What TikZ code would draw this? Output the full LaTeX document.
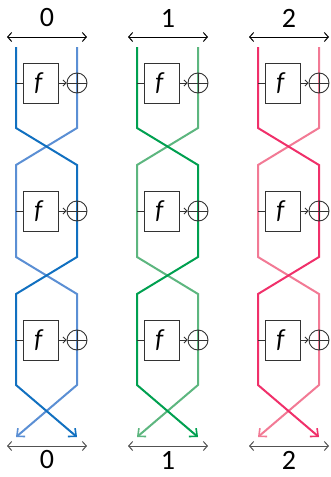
\documentclass[tikz,border=0pt]{standalone}
\usepackage{fontspec}
\setmainfont{Carlito}
\usetikzlibrary{arrows.meta}
\definecolor{bD}{HTML}{1170C0}
\definecolor{bL}{HTML}{5B8FD4}
\definecolor{gD}{HTML}{00A050}
\definecolor{gL}{HTML}{5DB67F}
\definecolor{pD}{HTML}{F0306A}
\definecolor{pL}{HTML}{F27A95}
\definecolor{ink}{HTML}{333333}
\tikzset{
  wire/.style={line width=2pt, line join=miter},
  endtip/.style={-{Straight Barb[length=6pt,width=11pt,line width=1.6pt]}},
  fbox/.style={draw=ink, line width=0.9pt, minimum width=35pt, minimum height=40pt, inner sep=0pt, font=\fontsize{26}{26}\selectfont\itshape, fill=white},
  xorc/.style={draw=ink, line width=0.9pt, circle, minimum size=20pt, inner sep=0pt},
  feed/.style={draw=ink, line width=0.9pt},
  fedarr/.style={draw=ink, line width=0.9pt, -{Straight Barb[length=3pt,width=6pt,line width=0.9pt]}},
  span/.style={line width=1pt, {Straight Barb[length=4pt,width=9pt,line width=1pt]}-{Straight Barb[length=4pt,width=9pt,line width=1pt]}},
  lab/.style={font=\fontsize{28}{28}\selectfont, inner sep=0pt},
}
\begin{document}
\begin{tikzpicture}[x=1pt,y=-1pt]
\useasboundingbox (0,0) rectangle (331,477);
\foreach \c/\dk/\lt in {0/bD/bL,1/gD/gL,2/pD/pL}{
  \begin{scope}[xshift=121*\c pt]
    \coordinate (L0) at (16,47);  \coordinate (R0) at (77,47);
    \coordinate (L1) at (16,128); \coordinate (R1) at (77,128);
    \coordinate (L2) at (16,165); \coordinate (R2) at (77,165);
    \coordinate (L3) at (16,257); \coordinate (R3) at (77,257);
    \coordinate (L4) at (16,294); \coordinate (R4) at (77,294);
    \coordinate (L5) at (16,385); \coordinate (R5) at (77,385);
    \coordinate (LE) at (16,437); \coordinate (RE) at (77,437);
    \draw[wire,\lt,endtip] (R0) -- (R1) -- (L2) -- (L3) -- (R4) -- (R5) -- (LE);
    \draw[wire,\dk,endtip] (L0) -- (L1) -- (R2) -- (R3) -- (L4) -- (L5) -- (RE);
    \foreach \y [count=\k] in {83,211,340}{
      \node[fbox] (f\k) at (40.5,\y) {$\!$f};
      \node[xorc] (x\k) at (77,\y) {};
      \coordinate (w\k) at (16,\y);
      \draw[feed] (w\k) -- (f\k.west);
      \draw[fedarr] (f\k.east) -- (x\k.west);
      \draw[feed] (x\k.north) -- (x\k.south);
      \draw[feed] (x\k.west) -- (x\k.east);
    }
    \coordinate (ta) at (7,37); \coordinate (tb) at (87,37);
    \draw[span,black] (ta) -- (tb);
    \node[lab] (tl) at (47,18) {\c};
    \coordinate (ba) at (7,446); \coordinate (bb) at (87,446);
    \draw[span,ink!85] (ba) -- (bb);
    \node[lab] (bl) at (47,460) {\c};
  \end{scope}
}
\end{tikzpicture}
\end{document}
